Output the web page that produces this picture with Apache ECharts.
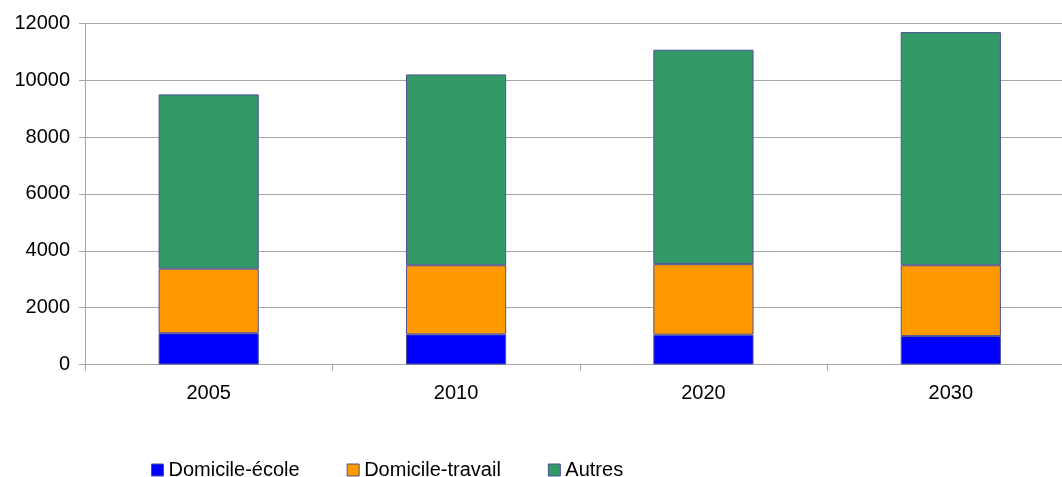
<!DOCTYPE html>
<html>
<head>
<meta charset="utf-8">
<script src="https://cdn.jsdelivr.net/npm/echarts@6/dist/echarts.min.js"></script>
<style>
  html, body { margin: 0; padding: 0; background: #ffffff; overflow: hidden; }
  #chart { width: 1075px; height: 477px; }
</style>
</head>
<body>
<div id="chart"></div>
<script>
// Trips by purpose, per year (stacked)
const years = ['2005', '2010', '2020', '2030'];
const domicileEcole = [1100, 1060, 1050, 1000];
const domicileTravail = [2270, 2430, 2480, 2490];
const autres = [6130, 6710, 7540, 8200];
const yTicks = { min: 0, max: 12000, interval: 2000 };

const FONT = 'Liberation Sans, Arial, sans-serif';
const GRID_COLOR = '#a6a6a6';
const BORDER = '#4f4f96';

const chart = echarts.init(document.getElementById('chart'), null, { renderer: 'canvas' });

function barSeries(name, data, color) {
  return {
    name: name,
    type: 'bar',
    stack: 'total',
    data: data,
    barWidth: '40.5%',
    itemStyle: { color: color, borderColor: BORDER, borderWidth: 1 },
    emphasis: { disabled: true }
  };
}

chart.setOption({
  animation: false,
  backgroundColor: '#ffffff',
  textStyle: { fontFamily: FONT },
  // the plot area runs slightly past the right edge of the window
  grid: { left: 85, top: 23.3, right: 0.5, bottom: 112.5, containLabel: false },
  legend: {
    left: 146,
    top: 455,
    itemWidth: 12,
    itemHeight: 12,
    itemGap: 47,
    icon: 'rect',
    itemStyle: { borderColor: BORDER, borderWidth: 1 },
    textStyle: { fontFamily: FONT, fontSize: 20, color: '#000000' },
    data: ['Domicile-école', 'Domicile-travail', 'Autres']
  },
  xAxis: {
    type: 'category',
    data: years,
    axisLine: { show: true, lineStyle: { color: GRID_COLOR, width: 1 } },
    axisTick: { show: true, length: 6, alignWithLabel: false, lineStyle: { color: GRID_COLOR } },
    axisLabel: { fontFamily: FONT, fontSize: 20, color: '#000000', margin: 19 },
    splitLine: { show: false }
  },
  yAxis: {
    type: 'value',
    min: yTicks.min,
    max: yTicks.max,
    interval: yTicks.interval,
    axisLine: { show: true, lineStyle: { color: GRID_COLOR, width: 1 } },
    axisTick: { show: true, length: 6, lineStyle: { color: GRID_COLOR } },
    axisLabel: {
      fontFamily: FONT, fontSize: 20, color: '#000000', margin: 15,
      formatter: function (v) { return String(v); }
    },
    splitLine: { show: true, lineStyle: { color: GRID_COLOR, width: 1 } }
  },
  series: [
    barSeries('Domicile-école', domicileEcole, '#0000ff'),
    barSeries('Domicile-travail', domicileTravail, '#ff9900'),
    barSeries('Autres', autres, '#339966')
  ]
});
</script>
</body>
</html>
